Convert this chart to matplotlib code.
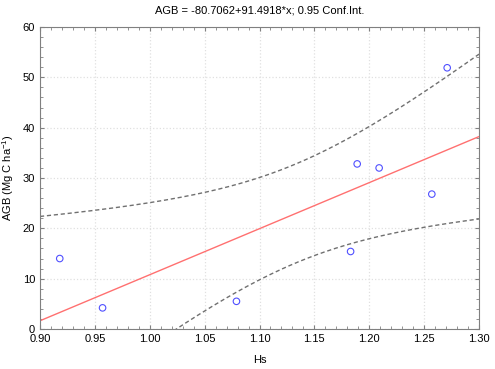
import numpy as np
import matplotlib

matplotlib.use("Agg")
import matplotlib.pyplot as plt
from matplotlib.ticker import MultipleLocator

plt.rcParams["font.family"] = ["Liberation Sans", "DejaVu Sans"]

# veriler
hs = np.array([0.918, 0.957, 1.079, 1.183, 1.189, 1.209, 1.257, 1.271])
agb = np.array([14.0, 4.2, 5.5, 15.4, 32.8, 32.0, 26.8, 51.9])
b0, b1 = -80.7062, 91.4918
t_crit = 2.4469  # t(0.975, df=6)

n = len(hs)
resid = agb - (b0 + b1 * hs)
s = np.sqrt((resid ** 2).sum() / (n - 2))
xm = hs.mean()
sxx = ((hs - xm) ** 2).sum()

xx = np.linspace(0.9, 1.3, 200)
yy = b0 + b1 * xx
half = t_crit * s * np.sqrt(1 / n + (xx - xm) ** 2 / sxx)

fig = plt.figure(figsize=(4.95, 3.69), dpi=100)
ax = fig.add_axes([0.0808, 0.1084, 0.8869, 0.8184])

ax.plot(xx, yy, color="#ff7070", lw=1.0)
ax.plot(xx, yy + half, color="#707070", lw=1.0, ls=(0, (3, 2)))
ax.plot(xx, yy - half, color="#707070", lw=1.0, ls=(0, (3, 2)))
ax.scatter(hs, agb, s=22, facecolors="none", edgecolors="#5050ff", lw=0.8, zorder=3)

ax.set_xlim(0.9, 1.3)
ax.set_ylim(0, 60)
ax.xaxis.set_major_locator(MultipleLocator(0.05))
ax.xaxis.set_minor_locator(MultipleLocator(0.01))
ax.yaxis.set_major_locator(MultipleLocator(10))
ax.yaxis.set_minor_locator(MultipleLocator(2))
ax.xaxis.set_major_formatter(lambda v, p: f"{v:.2f}")
ax.grid(True, which="major", color="#e0e0e0", ls=":", lw=0.9)
ax.tick_params(which="both", direction="in", top=True, right=True,
               color="#808080", labelsize=8)
ax.tick_params(which="major", length=3)
ax.tick_params(which="minor", length=2)
for sp in ax.spines.values():
    sp.set_color("#808080")

ax.set_xlabel("Hs", fontsize=8, labelpad=8)
ax.set_ylabel(r"AGB (Mg C ha$^{\mathregular{-1}}$)", fontsize=8)
ax.yaxis.set_label_coords(-0.055, 0.5)
ax.set_title("AGB = -80.7062+91.4918*x; 0.95 Conf.Int.", fontsize=8, pad=10)

fig.savefig("out.png", dpi=100)
